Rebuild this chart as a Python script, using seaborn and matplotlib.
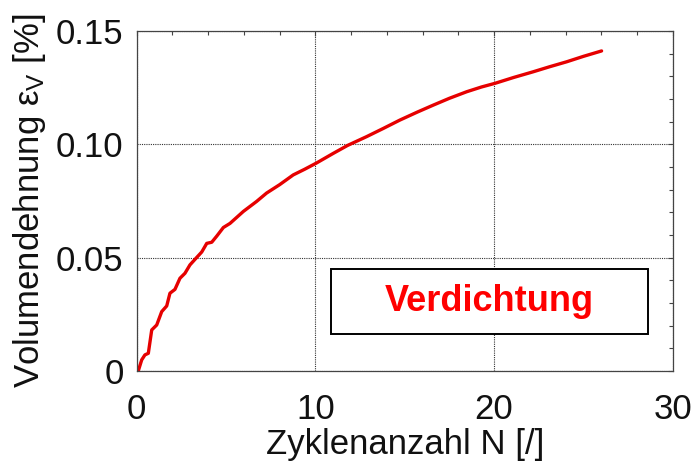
import matplotlib
matplotlib.use("Agg")
import matplotlib.pyplot as plt
from matplotlib.patches import Rectangle
from matplotlib.ticker import MultipleLocator
import seaborn as sns
import pandas as pd

# Cyclic loading test: volumetric strain vs. number of cycles
cycles = [0.0, 0.09, 0.28, 0.46, 0.65, 0.84, 1.12, 1.40, 1.68, 1.86, 2.14,
          2.42, 2.70, 2.98, 3.36, 3.64, 3.92, 4.20, 4.48, 4.85, 5.22, 5.97,
          6.71, 7.27, 8.0, 8.76, 9.4, 10.05, 11.0, 11.8, 12.87, 13.8, 14.73,
          15.7, 16.6, 17.5, 18.47, 19.3, 20.05, 21.1, 22.19, 23.1, 24.06,
          25.0, 26.02]
vol_strain = [0.0, 0.0001, 0.0049, 0.0071, 0.0078, 0.0181, 0.0203, 0.0262,
              0.0287, 0.0343, 0.0360, 0.0409, 0.0431, 0.0468, 0.0501, 0.0525,
              0.0563, 0.0568, 0.0595, 0.0633, 0.0651, 0.0704, 0.0748, 0.0785,
              0.0822, 0.0865, 0.0890, 0.0917, 0.0960, 0.0995, 0.1034, 0.1070,
              0.1107, 0.1142, 0.1173, 0.1203, 0.1232, 0.1253, 0.1269, 0.1295,
              0.1320, 0.1342, 0.1364, 0.1388, 0.1412]

x_ticks = [0, 10, 20, 30]
x_tick_labels = ["0", "10", "20", "30"]
y_ticks = [0, 0.05, 0.10, 0.15]
y_tick_labels = ["0", "0.05", "0.10", "0.15"]

annotation = "Verdichtung"
box_x = (10.88, 28.6)
box_y = (0.0161, 0.0448)

df = pd.DataFrame({"N": cycles, "eps_v": vol_strain})

sns.set_theme(style="white")
plt.rcParams["font.family"] = ["Liberation Sans", "DejaVu Sans"]
plt.rcParams["mathtext.default"] = "regular"

fig = plt.figure(figsize=(7.0, 4.66), dpi=100)
ax = fig.add_axes([0.1953, 0.2039, 0.7657, 0.7296])

sns.lineplot(data=df, x="N", y="eps_v", ax=ax, color="#e60000",
             linewidth=2.4, estimator=None, sort=False)

ax.set_xlim(0, 30)
ax.set_ylim(0, 0.15)
ax.set_xticks(x_ticks)
ax.set_xticklabels(x_tick_labels)
ax.set_yticks(y_ticks)
ax.set_yticklabels(y_tick_labels)
ax.xaxis.set_minor_locator(MultipleLocator(2))
ax.yaxis.set_minor_locator(MultipleLocator(0.01))

ax.tick_params(which="both", direction="in", top=True, right=True,
               colors="#444444", labelcolor="#111111")
ax.tick_params(which="major", length=3.5, width=0.8)
ax.tick_params(which="minor", length=3, width=0.8)
ax.tick_params(axis="x", which="major", labelsize=25, pad=16)
ax.tick_params(axis="y", which="major", labelsize=25, pad=9.5)

ax.grid(True, which="major", color="#333333", linestyle=(0, (1, 1)),
        linewidth=0.8)
for sp in ax.spines.values():
    sp.set_color("#444444")
    sp.set_linewidth(0.9)

ax.set_xlabel("Zyklenanzahl N [/]", fontsize=25, color="#111111", labelpad=1)
ax.set_ylabel(r"Volumendehnung ε$_V$ [%]", fontsize=25, color="#111111",
              labelpad=6)

# Annotation box
ax.add_patch(Rectangle((box_x[0], box_y[0]), box_x[1] - box_x[0],
                       box_y[1] - box_y[0], facecolor="white",
                       edgecolor="black", linewidth=1.4, zorder=5))
ax.text(sum(box_x) / 2, sum(box_y) / 2, annotation, color="#ff0000",
        fontsize=26, fontweight="bold", ha="center", va="center", zorder=6)

fig.savefig("out.png", dpi=100)
